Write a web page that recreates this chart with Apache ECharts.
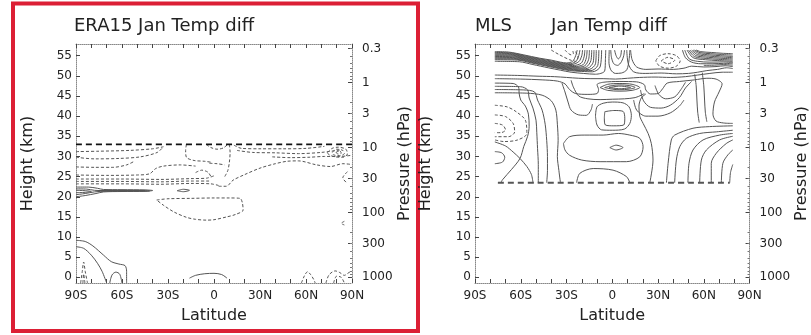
<!DOCTYPE html>
<html><head><meta charset="utf-8">
<script src="https://cdn.jsdelivr.net/npm/echarts@6/dist/echarts.min.js"></script>
<style>html,body{margin:0;padding:0;background:#fff}#c{width:811px;height:335px}</style>
</head><body><div id="c"></div>
<script>
// ---- tick labels ----
const latTicks = [-90,-60,-30,0,30,60,90];
const latLabels = ['90S','60S','30S','0','30N','60N','90N'];
const latMinorTicks = [-90,-80,-70,-60,-50,-40,-30,-20,-10,0,10,20,30,40,50,60,70,80,90];
const heightTicks = [0,5,10,15,20,25,30,35,40,45,50,55];
const pressureTicks = [0.3,1,3,10,30,100,300,1000];
const pressureLabels = ['0.3','1','3','10','30','100','300','1000'];
const titles = ['ERA15 Jan Temp diff','MLS','Jan Temp diff'];

// ---- ERA15 contours [lat, km] ----
const eraLimit = [[-90,33],[90,33]];
const eraNegative = [
  [[-90,31.2],[-75,31.3],[-55,31.5],[-40,31.9],[-33,32.4],[-37,31.0],[-48,29.9],[-62,29.5],[-78,29.4],[-90,29.8]],
  [[-90,27.4],[-78,27.3],[-66,27.3],[-57,27.9],[-52,28.8]],
  [[-90,25.4],[-70,25.3],[-50,25.4],[-42,25.7],[-38,27.0],[-33,27.6],[-22,27.9],[-12,27.6]],
  [[-90,24.4],[-60,24.4],[-35,24.3],[-15,24.5],[-5,24.6],[0,25.2]],
  [[-90,23.8],[-60,23.8],[-35,23.7],[-15,23.9],[-3,23.9]],
  [[-90,23.2],[-60,23.2],[-35,23.1],[-15,23.3],[-2,23.2],[3,22.8]],
  [[-5,33],[-2,32.2],[2,31.8],[6,32.1],[9,33]],
  [[-18,33],[-18.5,31.5],[-18,29.8],[-13,29.0],[-6,28.8],[-1,28.5]],
  [[10,33],[10.5,31],[10,28.5],[9,26.5],[7,25]],
  [[-12,26],[-8,26.6],[-4,26.1],[-2,25]],
  [[-3,28.3],[2,28.2],[7,27.9]],
  [[3,22.6],[8,22.6],[12.4,24.1],[20,25.5],[30,27.1],[40,28.2],[47.6,28.8],[55,28.9],[67,27.9],[76,27.5],[84,28.2],[90,28.0]],
  [[13,32.8],[18,32.0],[30,31.9],[45,31.9],[60,32.0],[72,32.5]],
  [[15,31.5],[25,31.0],[40,30.9],[55,30.7],[70,31.0],[82,31.6]],
  [[38,29.9],[50,29.7],[62,29.8],[72,30.0],[82,30.0],[90,30.3]],
  [[74,31],[77,32],[81,32.3],[86,31.8],[87,30.6],[84,29.8],[79,29.9],[75,30.4],[74,31]],
  [[77,31],[80,31.8],[84,31.5],[85,30.7],[82,30.2],[78,30.4],[77,31]],
  [[79.5,31],[82,31.4],[83,30.8],[81,30.6],[79.5,31]],
  [[-37.4,19.2],[-30,19.5],[-15,19.6],[0,19.7],[10,19.7],[17,19.6],[18.5,18.5],[19,16.7],[14,15.6],[8.3,15.0],[0,14.3],[-5,14.2],[-12,14.4],[-18,14.9],[-26,16.2],[-33,17.9],[-37.4,19.2]],
  [[-87,-1.4],[-86,1.2],[-85,3.8],[-84,1.5],[-82.5,-1.4]],
  [[-85.5,-1.4],[-85,0.8],[-84.2,-1.4]],
  [[57,-1.4],[59,0.4],[61,1.4],[63,0.7],[65,-0.5],[66,-1.4]],
  [[73,-1.4],[75,0.6],[79,1.6],[82,1.2],[85,0.5],[88,1.2],[90,1.6]],
  [[78,-1.4],[80,0.3],[83,0],[85,-1.4]],
  [[87,26.2],[84,24.7],[87,23.3]],
  [[85,13.9],[83,13.4],[85,13.0]]
];
const eraPositive = [
  [[-90,22.4],[-82,22.4],[-76,22.1],[-72,21.8],[-60,21.75],[-45,21.7],[-40,21.55],[-45,21.35],[-60,21.3],[-72,21.2],[-77,20.8],[-84,20.3],[-90,20.0]],
  [[-90,21.95],[-83,21.9],[-78,21.6],[-70,21.5],[-55,21.5],[-42,21.45],[-55,21.4],[-70,21.4],[-78,21.2],[-84,20.8],[-90,20.5]],
  [[-90,21.6],[-84,21.5],[-80,21.3],[-84,21.1],[-90,21.0]],
  [[-75,21.55],[-60,21.6],[-45,21.55],[-60,21.45],[-75,21.45]],
  [[-24,21.5],[-20,21.85],[-16,21.6],[-20,21.25],[-24,21.5]],
  [[-90,9.2],[-84,8.9],[-79,7.8],[-72,5.5],[-67,3.9],[-62,3.3],[-58,2.9],[-57,1.5],[-57,-1.4]],
  [[-90,7.6],[-85,7.2],[-80,5.5],[-76,3.5],[-73,1.5],[-70,-1.4]],
  [[-68,-1.4],[-66.5,0.6],[-64,1.3],[-61.5,0.8],[-60,-1.4]],
  [[-16,-0.2],[-12,0.5],[-6,0.9],[0,1.0],[5,0.7],[8.5,-0.2]]
];

// ---- MLS contours [lat, km] ----
const mlsLimit = [[-75,23.5],[77,23.5]];
const mlsNegative = [
  [[-77,42.7],[-69,42.3],[-63,41.1],[-57,39.0],[-56,35.7],[-62,34.1],[-71,33.7],[-77,34.1]],
  [[-77,40.3],[-70,39.9],[-65,38.2],[-64,36.1],[-68,34.9],[-77,34.9]],
  [[-77,38.2],[-72,37.8],[-70,36.6],[-73,35.9],[-77,35.9]],
  [[-40,56.4],[-35,55.3],[-28,54],[-24,53.6],[-22.5,54.5],[-24,56],[-25,56.4]],
  [[-31,56.4],[-27,55.2],[-25.5,55.5],[-26,56.4]],
  [[28.5,53.7],[31,55.0],[36.5,55.5],[42,55.0],[44.5,53.7],[42,52.4],[36.5,51.9],[31,52.4],[28.5,53.7]],
  [[32,53.7],[36.5,54.6],[41,53.9],[36.5,53.0],[32,53.7]]
];
const mlsPositive = [
  [[-77,56.0],[-68,55.9],[-58,55.2],[-48,54.4],[-40,53.9],[-34,53.4],[-30,53.2],[-26,53.6],[-24,55],[-23,56.4]],
  [[-77,55.8],[-67,55.7],[-57.5,55.0],[-47.5,54.2],[-39.5,53.65],[-33,53.15],[-28.5,53.0],[-24,53.5],[-22,55],[-21.2,56.4]],
  [[-77,55.6],[-66,55.5],[-57,54.8],[-47,54.0],[-39,53.4],[-32,52.9],[-27,52.8],[-22,53.5],[-20,55],[-19.5,56.4]],
  [[-77,55.4],[-65.5,55.3],[-56.5,54.6],[-46.5,53.8],[-38.5,53.2],[-31.5,52.7],[-26,52.55],[-20.5,53.1],[-18.5,54.7],[-18,56.4]],
  [[-77,55.2],[-65,55.1],[-56,54.4],[-46,53.6],[-38,53.0],[-31,52.5],[-25,52.3],[-19,52.8],[-17,54.5],[-16.5,56.4]],
  [[-77,55.0],[-64.5,54.9],[-55.5,54.2],[-45.5,53.4],[-37.5,52.8],[-30.5,52.3],[-24,52.1],[-18,52.5],[-15.5,54.1],[-15,56.4]],
  [[-77,54.8],[-64,54.7],[-55,54.0],[-45,53.2],[-37,52.6],[-30,52.1],[-23,51.9],[-17,52.2],[-14,53.8],[-13.5,56.4]],
  [[-77,54.6],[-63.5,54.5],[-54.5,53.8],[-44.5,53.0],[-36.5,52.4],[-29.5,51.9],[-22.5,51.7],[-16,51.9],[-12.5,53.4],[-12,56.4]],
  [[-77,54.4],[-63,54.3],[-54,53.6],[-44,52.8],[-36,52.2],[-29,51.7],[-22,51.5],[-15,51.6],[-11,53],[-10.5,56.4]],
  [[-77,54.2],[-62.5,54.1],[-53.5,53.4],[-43.5,52.6],[-35.5,52.0],[-28.5,51.5],[-21,51.3],[-14,51.3],[-9.5,52.6],[-8.8,56.4]],
  [[-77,54.0],[-62,53.9],[-53,53.2],[-43,52.4],[-35,51.8],[-28,51.3],[-20,51.1],[-13,51.0],[-8,52.2],[-7,56.4]],
  [[-77,53.6],[-61,53.5],[-52,52.8],[-42,52.0],[-34,51.4],[-27,50.9],[-19,50.6],[-11,50.4],[-5,51.2],[-4.5,54],[-4.3,56.4]],
  [[-1,56.4],[-0.5,54.5],[1,53],[3.5,52.6],[6,53.5],[7.5,55],[8,56.4]],
  [[1.5,56.4],[2.5,55],[4,54.2],[5.5,55],[6,56.4]],
  [[-2,56.4],[-2.2,53.5],[-1,51.5],[2,50.6],[6,50.7],[9.5,51.5],[11,54],[11.5,56.4]],
  [[12,56.4],[13,54],[16,52.2],[22,51.6],[30,51.7],[40,51.6],[47,51.9],[52,52.4],[60,52.2],[68,52.3],[74,52.5],[79,52.3]],
  [[9.5,56.4],[10.5,53],[14,51],[22,50.6],[32,50.7],[42,50.5],[50,50.6],[56,50.9],[62,51.3],[69,51.6],[75,52.0],[79,51.8]],
  [[55,56.4],[58,56],[65,55.8],[72,55.6],[79,55.5]],
  [[54,56.4],[57.5,55.75],[64.5,55.5],[71.5,55.3],[79,55.15]],
  [[53,56.4],[57,55.5],[64,55.2],[71,55],[79,54.8]],
  [[52,56.4],[56,55.25],[63.5,54.9],[70.5,54.7],[79,54.5]],
  [[51,56.4],[55,55.0],[63,54.6],[70,54.4],[79,54.2]],
  [[50,56.4],[54,54.75],[62,54.3],[69.5,54.1],[79,53.9]],
  [[49,56.4],[53,54.5],[61,54.0],[69,53.8],[79,53.6]],
  [[47.5,56.4],[50.5,54.2],[56,53.6],[64,53.4],[72,53.45],[79,53.3]],
  [[46,56.4],[48,54.5],[52,53.4],[58,53.0],[66,53.0],[73,53.1],[79,53.0]],
  [[60,52.6],[67,52.65],[73,52.8],[79,52.65]],
  [[-77,50.2],[-62,50.1],[-48,49.9],[-38,49.8],[-30,49.6],[-22,49.4],[-14,49.3],[-6,49.3],[2,49.2],[10,49.4],[18,49.6],[28,49.7],[38,49.6],[48,49.8],[56,50.2],[64,50.6],[72,50.9],[79,50.9]],
  [[-77,49.3],[-60,49.2],[-46,49.0],[-36,48.7],[-31,48.0],[-28,46.6],[-24,45.6],[-16,45.4],[-10,45.6],[-9,46.6],[-10,47.8],[-6,48.4],[5,48.6],[16,48.5],[21,47.8],[22,46.5],[25,45.5],[30,45.6],[33,46.8],[36,48.2],[44,48.6],[54,49.0],[62,49.4],[68,49.2],[72,48.0],[70,46.0],[67,43.5],[66,40.5],[68,38.8],[73,38.3],[79,38.2]],
  [[-27,48.9],[-25.5,47.2],[-22,45.0],[-16,44.3],[-8,44.1],[0,44.2],[8,44.3],[15,44.6],[19,45.2],[21,45.6]],
  [[-8,47.1],[-3,47.9],[5,48.1],[13,47.9],[18,47.1],[13,46.4],[5,46.2],[-3,46.4],[-8,47.1]],
  [[-5,47.1],[0,47.6],[5,47.75],[11,47.6],[15,47.1],[11,46.7],[5,46.55],[0,46.7],[-5,47.1]],
  [[-2,47.1],[5,47.45],[12,47.1],[5,46.8],[-2,47.1]],
  [[-77,48.2],[-65,48.1],[-61.5,47.2],[-61,45.5],[-60,44],[-57,42.5],[-55,40.5],[-54.5,37.5],[-55.5,35],[-58,32.5],[-60.5,29.5],[-66,26.8],[-72,24.2],[-73,23.5]],
  [[-77,47.4],[-60,47.3],[-55.5,46.5],[-54.5,44.5],[-52,42],[-50,39],[-49.5,36],[-49,32],[-48.5,28],[-48.5,23.5]],
  [[-77,46.6],[-58,46.5],[-51,46.0],[-49,44],[-46,41.5],[-44,38],[-43,34],[-42.5,30],[-42.5,26.5],[-43,23.5]],
  [[-77,45.8],[-56,45.7],[-46,45.2],[-40,43.8],[-37,41.5],[-36,38],[-35.5,34],[-36,30],[-35,26.5],[-34,23.5]],
  [[-33,48.2],[-31,46],[-29,43.5],[-27,41.5],[-22,40.3],[-17,40.2],[-14,41.5],[-13,43]],
  [[-77,33.6],[-70,32.6],[-65,31.1],[-60.5,29.5],[-56,27.5],[-53,25.5],[-52,23.5]],
  [[-77,31.2],[-72.5,30.9],[-70.5,29.8],[-72,28.6],[-77,28.2]],
  [[-4.9,41.1],[1,41.4],[7,41.2],[8.2,39.5],[7.5,37.8],[1,37.6],[-4.5,37.8],[-5.2,39.5],[-4.9,41.1]],
  [[-11,40],[-10,42.3],[-6,43.2],[0,43.5],[7,43.3],[11,42.3],[12.5,40.2],[11.5,38.2],[8,36.8],[0,36.5],[-7,36.6],[-10,37.8],[-11,40]],
  [[-32,33.2],[-28,34.9],[-18,35.3],[-6,35.3],[4,35.7],[11.5,35.3],[18,34.5],[20.2,32.4],[18,29.9],[9.3,28.7],[-8,28.7],[-20,29.1],[-28,30.3],[-31,31.6],[-32,33.2]],
  [[-1.6,32.2],[2.5,32.8],[7,32.2],[2.5,31.6],[-1.6,32.2]],
  [[-23.4,23.5],[-21.3,25.8],[-12.5,27.0],[0.5,26.6],[9.3,25.0],[11.5,23.5]],
  [[24.6,23.5],[26.7,29.1],[25.6,33.2],[23.5,35.7],[20.2,38.2],[18,40],[17.5,42.5],[19,44.5],[22,45.5]],
  [[14,44],[16,41.5],[22,40],[30,40],[38,40.8],[44,42.5],[47,44]],
  [[18.5,46.5],[20.5,43.8],[25,42.2],[32,42.0],[38,42.7],[44,44.6],[48,47.0],[52,48.6]],
  [[28,47.6],[30.5,45.4],[35,44.3],[41,44.8],[45,46.6],[48,48.4]],
  [[54,50.4],[55,47.5],[55.5,44],[56,41],[57,38.4]],
  [[59,50.8],[60,47.5],[60.5,44],[61,41],[62,38.6]],
  [[35.5,23.5],[36.6,28.3],[38.7,34.1],[40.9,35.3],[52.9,37.0],[63.8,37.4],[79,37.6]],
  [[40.9,23.5],[42,29.1],[44.2,32.4],[48.6,34.5],[57.3,35.7],[68.2,36.1],[79,36.5]],
  [[49.6,23.5],[50.3,28.3],[52.9,31.6],[59.5,34.1],[70.4,35.3],[79,35.7]],
  [[57.3,23.5],[58.4,29.1],[61.7,31.6],[70.4,34.1],[79,35.0]],
  [[64.9,23.5],[64.9,28.3],[68.2,30.8],[74.7,33.2],[79,34.1]],
  [[71.5,23.5],[72.5,28.3],[75.8,30.4],[79,31.6]],
  [[77,23.5],[77.5,26],[79,28]]
];

// ---- helpers (scale height for the pressure axis) ----
const H = 7.0;
const pToZ = p => H * Math.log(1000 / p);
const yMin = -1.4, yMax = 57.9;
const pressureMinor = [];
[0.1,1,10,100].forEach(d => [2,3,4,5,6,7,8,9].forEach(m => { const p = d*m; if (p > 0.3 && p < 1000) pressureMinor.push(pToZ(p)); }));

const font = 'DejaVu Sans';
const txt = '#222';
const frame = {show:true, onZero:false, lineStyle:{color:'#888', type:'dotted', width:1}};
const tickStyle = {color:'#444'};

const grids = [
  {left:76, top:44, width:276, height:239},
  {left:475, top:44, width:275, height:239}
];
const heightGap = [40, 41], pressGap = [36, 42];
const xAxes = [], yAxes = [];
grids.forEach((g, i) => {
  xAxes.push({gridIndex:i, type:'value', min:-90, max:90, position:'bottom',
    axisLine:frame, splitLine:{show:false},
    axisTick:{inside:true, length:4, lineStyle:tickStyle, customValues:latMinorTicks},
    axisLabel:{customValues:latTicks, formatter:v => latLabels[latTicks.indexOf(v)], color:txt, fontFamily:font, fontSize:12, margin:7},
    name:'Latitude', nameLocation:'middle', nameGap:25, nameTextStyle:{color:txt, fontFamily:font, fontSize:16}});
  xAxes.push({gridIndex:i, type:'value', min:-90, max:90, position:'top',
    axisLine:frame, splitLine:{show:false},
    axisTick:{inside:true, length:4, lineStyle:tickStyle, customValues:latMinorTicks},
    axisLabel:{show:false}});
  yAxes.push({gridIndex:i, type:'value', min:yMin, max:yMax, position:'left',
    axisLine:frame, splitLine:{show:false},
    axisTick:{inside:true, length:4, lineStyle:tickStyle, customValues:heightTicks},
    axisLabel:{customValues:heightTicks, color:txt, fontFamily:font, fontSize:12, margin:4},
    name:'Height (km)', nameLocation:'middle', nameRotate:90, nameGap:heightGap[i], nameTextStyle:{color:txt, fontFamily:font, fontSize:16}});
  const pz = pressureTicks.map(pToZ);
  yAxes.push({gridIndex:i, type:'value', min:yMin, max:yMax, position:'right',
    axisLine:frame, splitLine:{show:false},
    axisTick:{inside:true, length:4, lineStyle:tickStyle, customValues:pz},
    axisLabel:{customValues:pz, formatter:v => { let k=0, best=1e9; pz.forEach((z,j)=>{ if (Math.abs(z-v)<best){best=Math.abs(z-v);k=j;} }); return pressureLabels[k]; }, color:txt, fontFamily:font, fontSize:12, margin:10},
    name:'Pressure (hPa)', nameLocation:'middle', nameRotate:90, nameGap:pressGap[i], nameTextStyle:{color:txt, fontFamily:font, fontSize:16}});
  yAxes.push({gridIndex:i, type:'value', min:yMin, max:yMax, position:'right',
    axisLine:{show:false, onZero:false}, splitLine:{show:false},
    axisTick:{inside:true, length:2, lineStyle:{color:'#777'}, customValues:pressureMinor},
    axisLabel:{show:false}});
});

const series = [];
function addLines(list, gi, style) {
  list.forEach(pts => series.push({type:'line', xAxisIndex:gi*2, yAxisIndex:gi*3, data:pts,
    showSymbol:false, symbol:'none', smooth:0.3, silent:true, animation:false, lineStyle:style}));
}
const negStyle = {color:'#555', width:1, type:[3,2]};
const posStyle = {color:'#555', width:1, type:'solid'};
const limStyle = {color:'#111', width:1.6, type:[6,4]};
addLines(eraNegative, 0, negStyle);
addLines(eraPositive, 0, posStyle);
addLines([eraLimit], 0, limStyle);
addLines(mlsNegative, 1, negStyle);
addLines(mlsPositive, 1, posStyle);
addLines([mlsLimit], 1, Object.assign({}, limStyle, {color:'#555', width:2}));

const tStyle = {color:txt, fontFamily:font, fontSize:18, fontWeight:'normal'};
const chart = echarts.init(document.getElementById('c'), null, {renderer:'canvas'});
chart.setOption({
  animation:false,
  backgroundColor:'#fff',
  title:[
    {text:titles[0], left:74, top:17, padding:0, textStyle:tStyle},
    {text:titles[1], left:475, top:17, padding:0, textStyle:tStyle},
    {text:titles[2], left:551, top:17, padding:0, textStyle:tStyle}
  ],
  grid:grids, xAxis:xAxes, yAxis:yAxes, series:series,
  graphic:[{type:'rect', shape:{x:13,y:3.5,width:405,height:327.5}, style:{fill:'none', stroke:'#dc1f35', lineWidth:4}, silent:true}]
});
</script></body></html>
